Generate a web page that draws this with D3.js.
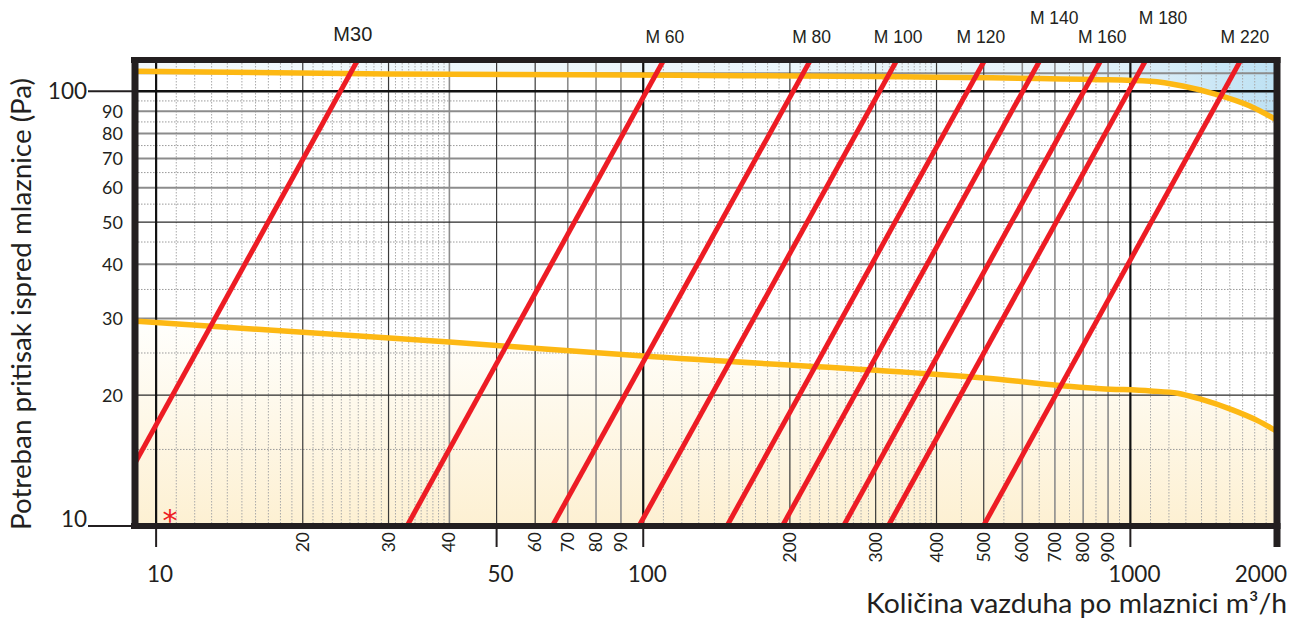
<!DOCTYPE html>
<html><head><meta charset="utf-8">
<script src="https://cdn.jsdelivr.net/npm/d3@7"></script>
<style>html,body{margin:0;padding:0;background:#fff;} svg{display:block}</style>
</head><body><svg id="c" width="1298" height="622"></svg>
<script>
// ---------- data ----------
const nozzles      = ["M30", "M 60", "M 80", "M 100", "M 120", "M 140", "M 160", "M 180", "M 220"];
const flowAt10Pa   = [7.6, 32.4, 64.4, 97, 147, 191, 255, 315, 494];      // m3/h at 10 Pa
const flowAt100Pa  = [24, 102, 204, 307, 465, 604, 806, 996, 1560];       // m3/h at 100 Pa
const labelRow     = [0, 0, 0, 0, 0, 1, 0, 1, 0];

const upperFlow = [9, 30, 120, 870, 1100, 1280, 1500, 1760, 2000];
const upperPa   = [111.2, 109.6, 108.8, 106.3, 105.4, 102.8, 98.4, 92.5, 85.8];
const lowerFlow = [9, 40, 100, 500, 870, 1100, 1250, 1390, 1620, 1820, 2000];
const lowerPa   = [29.6, 26.5, 24.6, 21.9, 20.7, 20.45, 20.2, 19.6, 18.5, 17.5, 16.5];

const xMajorTicks = [10, 50, 100, 1000, 2000];
const xMinorTicks = [20, 30, 40, 60, 70, 80, 90, 200, 300, 400, 500, 600, 700, 800, 900];
const yMajorTicks = [100, 10];
const yMinorTicks = [90, 80, 70, 60, 50, 40, 30, 20];

const xTitle = "Količina vazduha po mlaznici m³/h";
const yTitle = "Potreban pritisak ispred mlaznice (Pa)";

// ---------- layout ----------
const L = 135, R = 1277, T = 60, B = 526;
const ink = "#231f20";
const x = d3.scaleLog().domain([9.05, 2000]).range([L, R]);
const y = d3.scaleLog().domain([10, 118]).range([B, T]);
const labelNudge = {"M30": -6, "M 120": -5, "M 140": 13, "M 180": 16, "M 220": 3};

const svg = d3.select("#c");
const defs = svg.append("defs");
defs.append("clipPath").attr("id", "plot").append("rect")
  .attr("x", L).attr("y", T).attr("width", R - L).attr("height", B - T);

const gBlue = defs.append("linearGradient").attr("id", "blue")
  .attr("gradientUnits", "userSpaceOnUse").attr("x1", L).attr("x2", R).attr("y1", 0).attr("y2", 0);
[[0, "#f3f9fc"], [0.8, "#e8f4fa"], [0.9, "#d8edf8"], [1, "#bde1f3"]].forEach(s =>
  gBlue.append("stop").attr("offset", s[0]).attr("stop-color", s[1]));
const gCream = defs.append("linearGradient").attr("id", "cream")
  .attr("gradientUnits", "userSpaceOnUse").attr("x1", 0).attr("x2", 0).attr("y1", y(30)).attr("y2", B);
[[0, "#fffffd"], [1, "#fdf0d2"]].forEach(s =>
  gCream.append("stop").attr("offset", s[0]).attr("stop-color", s[1]));

const plot = svg.append("g").attr("clip-path", "url(#plot)");

const upper = upperFlow.map((q, i) => [q, upperPa[i]]);
const lower = lowerFlow.map((q, i) => [q, lowerPa[i]]);

// backgrounds
plot.append("path").datum(upper)
  .attr("d", d3.area().x(d => x(d[0])).y0(T - 5).y1(d => y(d[1])).curve(d3.curveMonotoneX))
  .attr("fill", "url(#blue)");
plot.append("path").datum(lower)
  .attr("d", d3.area().x(d => x(d[0])).y0(B + 5).y1(d => y(d[1])).curve(d3.curveMonotoneX))
  .attr("fill", "url(#cream)");

// ---------- grid ----------
const vDotted = [];
for (let v = 11; v < 40; v++) if (v % 10) vDotted.push(v);
for (let v = 110; v < 400; v += 10) if (v % 100) vDotted.push(v);
[450, 550, 650, 750, 850, 950].forEach(v => vDotted.push(v));
for (let v = 1100; v < 2000; v += 100) vDotted.push(v);
const vBlack = [10, 100, 1000];
const vDark = [20, 30, 50, 60, 200, 300, 400, 500];
const vGray = [40, 70, 80, 90, 600, 700, 800, 900];

const hDotted = [15, 25, 35, 45, 55, 65, 75, 85, 95];
const hGray = [110, 90, 80, 70, 60, 40, 30];
const hDark = [50, 20];
const hBlack = [100];

const grid = plot.append("g");
const vline = (vals, stroke, w, dash) => grid.selectAll(null).data(vals).enter().append("line")
  .attr("x1", d => x(d)).attr("x2", d => x(d)).attr("y1", T).attr("y2", B)
  .attr("stroke", stroke).attr("stroke-width", w).attr("stroke-dasharray", dash || null);
const hline = (vals, stroke, w, dash) => grid.selectAll(null).data(vals).enter().append("line")
  .attr("y1", d => y(d)).attr("y2", d => y(d)).attr("x1", L).attr("x2", R)
  .attr("stroke", stroke).attr("stroke-width", w).attr("stroke-dasharray", dash || null);

vline(vDotted, "#a9a9a9", 1, "1.5,1.5");
hline(hDotted, "#9a9a9a", 1, "1.5,1.5");
vline(vGray, "#8c8c8c", 1.6);
hline(hGray, "#8c8c8c", 2);
vline(vDark, "#3a3a3a", 1.2);
hline(hDark, "#2a2a2a", 1.3);
vline(vBlack, "#111", 2.2);
hline(hBlack, "#111", 2.6);

// ---------- yellow limit curves ----------
const line = d3.line().x(d => x(d[0])).y(d => y(d[1])).curve(d3.curveMonotoneX);
[upper, lower].forEach(c => plot.append("path").datum(c).attr("d", line)
  .attr("fill", "none").attr("stroke", "#fdb813").attr("stroke-width", 5.5));

// ---------- nozzle lines ----------
const pTop = y.domain()[1];
const nozzleData = nozzles.map((n, i) => {
  const q1 = flowAt10Pa[i], q2 = flowAt100Pa[i];
  const s = Math.log(100 / 10) / Math.log(q2 / q1);
  const qTop = q1 * Math.pow(pTop / 10, 1 / s);
  return {name: n, q1, qTop, row: labelRow[i]};
});
plot.selectAll(null).data(nozzleData).enter().append("line")
  .attr("x1", d => x(d.q1)).attr("y1", y(10) + 4)
  .attr("x2", d => x(d.qTop)).attr("y2", T - 2)
  .attr("stroke", "#ed1c24").attr("stroke-width", 5);

svg.selectAll(null).data(nozzleData).enter().append("text")
  .attr("x", d => x(d.qTop) + (labelNudge[d.name] || 0))
  .attr("y", d => d.name === "M30" ? 41 : (d.row ? 24 : 43))
  .attr("text-anchor", "middle")
  .attr("font-family", "'Liberation Sans', Arial, sans-serif")
  .attr("font-size", d => d.name === "M30" ? 20 : 17.5)
  .attr("fill", ink).text(d => d.name);

// asterisk
svg.append("text").attr("x", 170).attr("y", 531).attr("text-anchor", "middle")
  .attr("font-family", "'DejaVu Sans', sans-serif").attr("font-size", 30)
  .attr("fill", "#ed1c24").text("*");

// ---------- frame ----------
const frame = svg.append("g").attr("stroke", ink).attr("stroke-linecap", "butt");
frame.append("line").attr("x1", L - 4).attr("x2", R + 3.5).attr("y1", T).attr("y2", T).attr("stroke-width", 6);
frame.append("line").attr("x1", L - 4).attr("x2", R + 3.5).attr("y1", B).attr("y2", B).attr("stroke-width", 6);
frame.append("line").attr("x1", L).attr("x2", L).attr("y1", T - 3).attr("y2", B + 3).attr("stroke-width", 7);
frame.append("line").attr("x1", R).attr("x2", R).attr("y1", T - 3).attr("y2", 547).attr("stroke-width", 7);

// ---------- axes text ----------
const numFont = "Lato, 'Open Sans', sans-serif";
// y major ticks
svg.selectAll(null).data(yMajorTicks).enter().append("line")
  .attr("x1", 88).attr("x2", L - 3).attr("y1", d => y(d)).attr("y2", d => y(d))
  .attr("stroke", ink).attr("stroke-width", 2);
svg.selectAll(null).data(yMajorTicks).enter().append("text")
  .attr("x", 87).attr("y", d => d === 10 ? y(d) + 1 : y(d) + 8)
  .attr("text-anchor", "end").attr("font-family", numFont).attr("font-size", 22.5)
  .attr("fill", ink).text(d => d);
svg.selectAll(null).data(yMinorTicks).enter().append("text")
  .attr("x", 123).attr("y", d => y(d) + 6.5)
  .attr("text-anchor", "end").attr("font-family", numFont).attr("font-size", 18)
  .attr("fill", ink).text(d => d);

// x major ticks
svg.selectAll(null).data(xMajorTicks.filter(d => d < 2000)).enter().append("line")
  .attr("x1", d => x(d)).attr("x2", d => x(d)).attr("y1", B).attr("y2", 547)
  .attr("stroke", ink).attr("stroke-width", 2);
svg.selectAll(null).data(xMajorTicks).enter().append("text")
  .attr("x", d => d === 2000 ? x(d) + 10 : x(d) + 4).attr("y", 582)
  .attr("text-anchor", d => d === 2000 ? "end" : "middle")
  .attr("font-family", numFont).attr("font-size", 22.5).attr("fill", ink).text(d => d);
svg.selectAll(null).data(xMinorTicks).enter().append("text")
  .attr("transform", d => `translate(${x(d) + 6},532) rotate(-90)`)
  .attr("text-anchor", "end")
  .attr("font-family", numFont).attr("font-size", 17.5).attr("fill", ink).text(d => d);

// titles
svg.append("text").attr("x", 1287).attr("y", 613).attr("text-anchor", "end")
  .attr("font-family", numFont).attr("font-size", 26).attr("fill", ink)
  .attr("textLength", 421).attr("lengthAdjust", "spacingAndGlyphs").text(xTitle);
svg.append("text").attr("transform", "translate(31,304) rotate(-90)").attr("text-anchor", "middle")
  .attr("font-family", numFont).attr("font-size", 27).attr("fill", ink)
  .attr("textLength", 452).attr("lengthAdjust", "spacingAndGlyphs").text(yTitle);
</script>
</body></html>
